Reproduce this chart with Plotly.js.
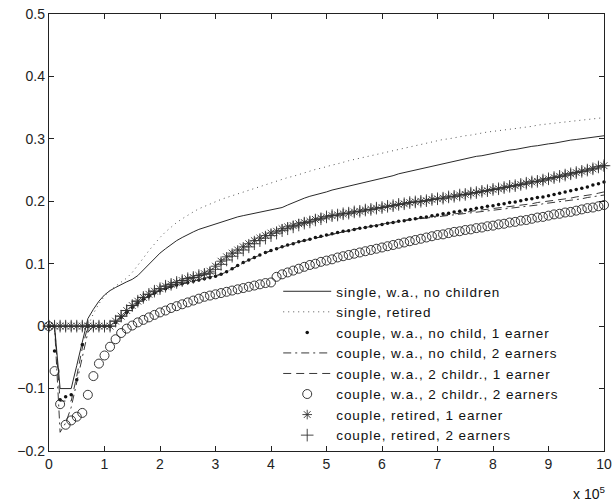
<!DOCTYPE html>
<html>
<head>
<meta charset="utf-8">
<script src="https://cdn.plot.ly/plotly-3.0.1.min.js"></script>
<style>
  html, body { margin: 0; padding: 0; background: #fff; }
  #chart { width: 612px; height: 501px; }
  .legendtext { letter-spacing: 0.95px; }
</style>
</head>
<body>
<div id="chart"></div>
<script>
// income, in units of 10^5
const incomeX = [0,0.1,0.2,0.3,0.4,0.5,0.6,0.7,0.8,0.9,
  1,1.1,1.2,1.3,1.4,1.5,1.6,1.7,1.8,1.9,
  2,2.1,2.2,2.3,2.4,2.5,2.6,2.7,2.8,2.9,
  3,3.1,3.2,3.3,3.4,3.5,3.6,3.7,3.8,3.9,
  4,4.1,4.2,4.3,4.4,4.5,4.6,4.7,4.8,4.9,
  5,5.1,5.2,5.3,5.4,5.5,5.6,5.7,5.8,5.9,
  6,6.1,6.2,6.3,6.4,6.5,6.6,6.7,6.8,6.9,
  7,7.1,7.2,7.3,7.4,7.5,7.6,7.7,7.8,7.9,
  8,8.1,8.2,8.3,8.4,8.5,8.6,8.7,8.8,8.9,
  9,9.1,9.2,9.3,9.4,9.5,9.6,9.7,9.8,9.9,
  10];

const singleWaNoChildren = [0,0,-0.1,-0.1,-0.1,-0.063,-0.025,0.012,0.027,0.04,
  0.05,0.057,0.062,0.067,0.071,0.075,0.081,0.09,0.099,0.108,
  0.117,0.124,0.131,0.137,0.142,0.147,0.151,0.155,0.158,0.161,
  0.164,0.167,0.17,0.172,0.175,0.177,0.179,0.181,0.183,0.185,
  0.186,0.188,0.19,0.194,0.198,0.202,0.205,0.208,0.21,0.213,
  0.215,0.218,0.22,0.222,0.225,0.227,0.229,0.231,0.233,0.235,
  0.237,0.239,0.241,0.244,0.246,0.248,0.25,0.252,0.255,0.257,
  0.259,0.261,0.263,0.264,0.266,0.268,0.27,0.272,0.273,0.275,
  0.277,0.279,0.28,0.282,0.283,0.285,0.286,0.288,0.289,0.291,
  0.292,0.293,0.295,0.296,0.298,0.299,0.3,0.301,0.303,0.304,
  0.305];

const singleRetired = [0,0,0,0,0,0,0,0,0.02,0.036,
  0.048,0.057,0.064,0.07,0.077,0.086,0.097,0.109,0.121,0.132,
  0.142,0.151,0.159,0.166,0.172,0.178,0.183,0.188,0.192,0.196,
  0.2,0.203,0.206,0.209,0.212,0.215,0.218,0.221,0.224,0.227,
  0.23,0.233,0.235,0.238,0.24,0.243,0.246,0.248,0.251,0.253,
  0.256,0.258,0.26,0.263,0.265,0.267,0.269,0.271,0.274,0.276,
  0.278,0.28,0.282,0.284,0.286,0.288,0.29,0.292,0.293,0.295,
  0.297,0.299,0.3,0.302,0.303,0.305,0.306,0.308,0.309,0.311,
  0.312,0.313,0.315,0.316,0.317,0.318,0.319,0.32,0.322,0.323,
  0.324,0.325,0.326,0.327,0.328,0.329,0.33,0.331,0.332,0.333,
  0.334];

const coupleNoChild1Earner = [0,-0.04,-0.118,-0.113,-0.11,-0.086,-0.03,0,0,0,
  0,0,0.006,0.014,0.022,0.03,0.037,0.043,0.048,0.053,
  0.057,0.06,0.063,0.066,0.068,0.07,0.072,0.074,0.076,0.078,
  0.08,0.083,0.087,0.092,0.097,0.102,0.106,0.11,0.114,0.118,
  0.121,0.124,0.127,0.13,0.132,0.135,0.137,0.139,0.142,0.144,
  0.146,0.148,0.15,0.152,0.153,0.155,0.157,0.158,0.16,0.161,
  0.163,0.165,0.166,0.168,0.169,0.171,0.172,0.174,0.175,0.177,
  0.178,0.18,0.181,0.183,0.184,0.186,0.187,0.189,0.19,0.192,
  0.193,0.195,0.196,0.198,0.199,0.201,0.203,0.204,0.206,0.207,
  0.209,0.211,0.213,0.215,0.217,0.219,0.221,0.223,0.226,0.228,
  0.231];

const coupleNoChild2Earners = [0,0,-0.17,-0.155,-0.13,-0.09,-0.05,-0.01,0,0,
  0,0,0.006,0.014,0.022,0.03,0.037,0.043,0.048,0.053,
  0.057,0.06,0.063,0.066,0.068,0.07,0.072,0.074,0.076,0.078,
  0.08,0.083,0.087,0.092,0.097,0.102,0.106,0.11,0.114,0.118,
  0.121,0.124,0.127,0.13,0.132,0.135,0.137,0.139,0.142,0.144,
  0.146,0.148,0.15,0.152,0.153,0.155,0.157,0.158,0.16,0.161,
  0.163,0.165,0.166,0.168,0.169,0.17,0.171,0.172,0.173,0.174,
  0.176,0.177,0.178,0.179,0.18,0.181,0.182,0.183,0.184,0.185,
  0.186,0.187,0.188,0.189,0.19,0.191,0.192,0.193,0.194,0.196,
  0.197,0.198,0.199,0.2,0.202,0.203,0.204,0.206,0.207,0.208,
  0.21];

const couple2Child1Earner = [0,0,-0.12,-0.12,-0.12,-0.08,-0.035,0,0,0,
  0,0,0.006,0.014,0.022,0.03,0.037,0.043,0.048,0.053,
  0.057,0.06,0.063,0.066,0.068,0.07,0.072,0.074,0.076,0.078,
  0.08,0.083,0.087,0.092,0.097,0.102,0.106,0.11,0.114,0.118,
  0.121,0.124,0.127,0.13,0.132,0.135,0.137,0.139,0.142,0.144,
  0.146,0.148,0.15,0.152,0.153,0.155,0.157,0.158,0.16,0.161,
  0.163,0.165,0.166,0.168,0.169,0.171,0.172,0.173,0.174,0.176,
  0.177,0.178,0.179,0.18,0.181,0.182,0.184,0.185,0.186,0.187,
  0.188,0.189,0.19,0.192,0.193,0.194,0.195,0.196,0.198,0.199,
  0.2,0.201,0.203,0.204,0.205,0.207,0.208,0.21,0.211,0.213,
  0.215];

const couple2Child2Earners = [0,-0.072,-0.125,-0.158,-0.151,-0.145,-0.139,-0.11,-0.08,-0.06,
  -0.047,-0.033,-0.021,-0.011,-0.004,0.001,0.006,0.01,0.014,0.018,
  0.022,0.025,0.029,0.032,0.035,0.038,0.041,0.044,0.047,0.049,
  0.051,0.053,0.055,0.057,0.059,0.061,0.063,0.065,0.067,0.069,
  0.07,0.079,0.083,0.086,0.089,0.092,0.095,0.098,0.1,0.103,
  0.105,0.107,0.11,0.112,0.114,0.116,0.118,0.12,0.122,0.124,
  0.126,0.128,0.13,0.132,0.134,0.136,0.138,0.14,0.142,0.144,
  0.146,0.147,0.149,0.151,0.152,0.154,0.155,0.157,0.158,0.16,
  0.161,0.163,0.164,0.166,0.167,0.169,0.17,0.172,0.174,0.175,
  0.177,0.179,0.18,0.182,0.183,0.185,0.187,0.189,0.19,0.192,
  0.194];

const coupleRetired1Earner = [0,0,0,0,0,0,0,0,0,0,
  0,0,0.008,0.016,0.025,0.033,0.04,0.046,0.051,0.056,
  0.06,0.064,0.067,0.07,0.073,0.076,0.078,0.081,0.084,0.088,
  0.096,0.104,0.111,0.117,0.122,0.127,0.132,0.137,0.141,0.145,
  0.149,0.152,0.156,0.159,0.161,0.164,0.166,0.168,0.171,0.173,
  0.175,0.177,0.178,0.18,0.181,0.183,0.184,0.186,0.187,0.189,
  0.19,0.192,0.193,0.195,0.196,0.198,0.199,0.2,0.201,0.203,
  0.204,0.205,0.207,0.208,0.21,0.211,0.213,0.214,0.216,0.217,
  0.219,0.22,0.222,0.224,0.225,0.227,0.229,0.231,0.232,0.234,
  0.236,0.238,0.24,0.242,0.244,0.246,0.248,0.25,0.252,0.255,
  0.257];

const coupleRetired2Earners = [0,0,0,0,0,0,0,0,0,0,
  0,0,0.008,0.016,0.025,0.033,0.04,0.046,0.051,0.056,
  0.06,0.064,0.067,0.07,0.073,0.076,0.078,0.081,0.083,0.085,
  0.091,0.099,0.106,0.112,0.117,0.122,0.127,0.132,0.137,0.141,
  0.145,0.149,0.153,0.156,0.159,0.162,0.165,0.167,0.17,0.172,
  0.175,0.177,0.178,0.18,0.181,0.183,0.184,0.186,0.187,0.189,
  0.19,0.192,0.193,0.195,0.196,0.198,0.199,0.2,0.201,0.203,
  0.204,0.205,0.207,0.208,0.21,0.211,0.213,0.214,0.216,0.217,
  0.219,0.22,0.222,0.224,0.225,0.227,0.229,0.231,0.232,0.234,
  0.236,0.238,0.24,0.242,0.244,0.246,0.248,0.25,0.252,0.255,
  0.257];

const seriesNames = [
  'single, w.a., no children',
  'single, retired',
  'couple, w.a., no child, 1 earner',
  'couple, w.a., no child, 2 earners',
  'couple, w.a., 2 childr., 1 earner',
  'couple, w.a., 2 childr., 2 earners',
  'couple, retired, 1 earner',
  'couple, retired, 2 earners'
];

const xTicks = [0,1,2,3,4,5,6,7,8,9,10];
const yTicks = [-0.2,-0.1,0,0.1,0.2,0.3,0.4,0.5];

const FONT = 'Liberation Sans, Arial, Helvetica, sans-serif';

const traces = [
  {x: incomeX, y: singleWaNoChildren, name: seriesNames[0], mode: 'lines',
   line: {color: '#111', width: 0.9}},
  {x: incomeX, y: singleRetired, name: seriesNames[1], mode: 'lines',
   line: {color: '#555', width: 1, dash: '1px,4px'}},
  {x: incomeX, y: coupleNoChild1Earner, name: seriesNames[2], mode: 'markers', cliponaxis: false,
   marker: {symbol: 'circle', size: 3.5, color: '#111'}},
  {x: incomeX, y: coupleNoChild2Earners, name: seriesNames[3], mode: 'lines',
   line: {color: '#222', width: 0.9, dash: '8px,4px,2px,4px'}},
  {x: incomeX, y: couple2Child1Earner, name: seriesNames[4], mode: 'lines',
   line: {color: '#222', width: 0.9, dash: '8px,5px'}},
  {x: incomeX, y: couple2Child2Earners, name: seriesNames[5], mode: 'markers', cliponaxis: false,
   marker: {symbol: 'circle-open', size: 9, color: '#222', line: {width: 0.9, color: '#222'}}},
  {x: incomeX, y: coupleRetired1Earner, name: seriesNames[6], mode: 'markers', cliponaxis: false,
   marker: {symbol: 'asterisk-open', size: 8, color: '#333', line: {width: 0.9, color: '#333'}}},
  {x: incomeX, y: coupleRetired2Earners, name: seriesNames[7], mode: 'markers', cliponaxis: false,
   marker: {symbol: 'cross-thin-open', size: 9, color: '#333', line: {width: 0.9, color: '#333'}}}
];

const axisCommon = {
  showgrid: false, zeroline: false,
  showline: true, linecolor: '#222', linewidth: 1.2, mirror: 'ticks',
  ticks: 'inside', ticklen: 5, tickwidth: 1, tickcolor: '#222',
  tickfont: {family: FONT, size: 14, color: '#222'}
};

const layout = {
  width: 612, height: 501,
  margin: {l: 49, r: 8, t: 14, b: 50},
  paper_bgcolor: '#fff', plot_bgcolor: '#fff',
  showlegend: true,
  legend: {
    x: 0.413, xanchor: 'left', y: 0, yanchor: 'bottom',
    bgcolor: 'rgba(0,0,0,0)', borderwidth: 0,
    font: {family: FONT, size: 13.5, color: '#111'},
    itemwidth: 48, tracegroupgap: 0
  },
  xaxis: Object.assign({}, axisCommon, {
    range: [0, 10], tickmode: 'array', tickvals: xTicks, ticktext: xTicks.map(String)
  }),
  yaxis: Object.assign({}, axisCommon, {
    range: [-0.2, 0.5], tickmode: 'array', tickvals: yTicks,
    ticktext: yTicks.map(v => v === 0 ? '0' : (v < 0 ? '\u2212' + Math.abs(v).toFixed(1) : v.toFixed(1)))
  }),
  annotations: [{
    text: 'x 10<sup>5</sup>', xref: 'paper', yref: 'paper', x: 1.006, y: -0.095,
    xanchor: 'right', yanchor: 'middle', showarrow: false,
    font: {family: FONT, size: 14, color: '#111'}
  }]
};

Plotly.newPlot('chart', traces, layout, {staticPlot: true, displayModeBar: false});
</script>
</body>
</html>
